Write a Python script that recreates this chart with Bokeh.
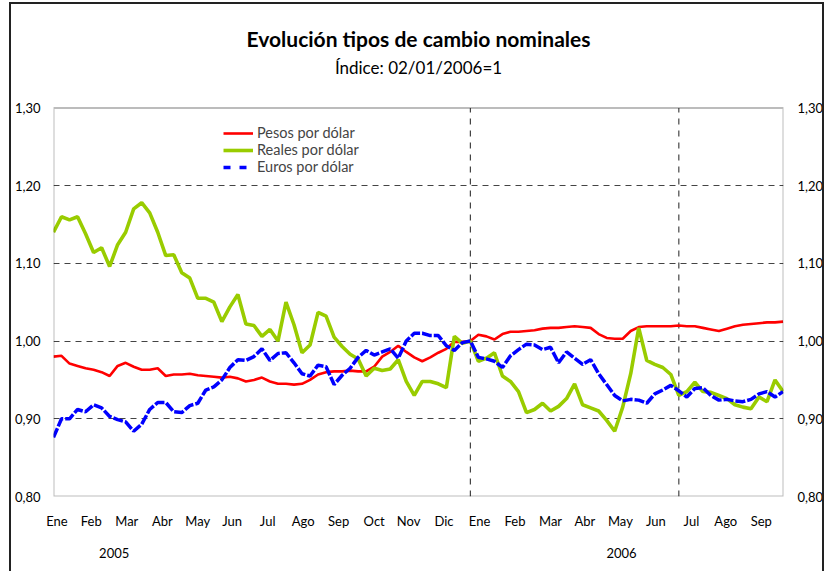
import pandas as pd
from bokeh.plotting import figure
from bokeh.models import (Range1d, FixedTicker, LinearAxis, Legend, LegendItem,
                          Label, BoxAnnotation, CustomJSTickFormatter)
from bokeh.embed import file_html
from bokeh.resources import INLINE

# ---- data (weekly readings, index 02/01/2006 = 1) ----
fechas = pd.date_range("2005-01-03", periods=92, freq="7D")

pesos = [0.980, 0.981, 0.971, 0.968, 0.965, 0.963, 0.960, 0.955, 0.968, 0.972,
         0.967, 0.963, 0.963, 0.965, 0.955, 0.957, 0.957, 0.958, 0.956, 0.955,
         0.954, 0.953, 0.954, 0.952, 0.948, 0.950, 0.953, 0.948, 0.945, 0.945,
         0.944, 0.945, 0.950, 0.957, 0.960, 0.961, 0.961, 0.962, 0.961, 0.961,
         0.967, 0.980, 0.986, 0.994, 0.986, 0.979, 0.974, 0.979, 0.985, 0.990,
         0.999, 0.999, 1.000, 1.008, 1.006, 1.002, 1.009, 1.012, 1.012, 1.013,
         1.014, 1.016, 1.017, 1.017, 1.018, 1.019, 1.018, 1.017, 1.009, 1.004,
         1.003, 1.003, 1.013, 1.018, 1.019, 1.019, 1.019, 1.019, 1.020, 1.019,
         1.019, 1.017, 1.015, 1.013, 1.016, 1.019, 1.021, 1.022, 1.023, 1.024,
         1.024, 1.025]

reales = [1.140, 1.160, 1.156, 1.160, 1.138, 1.114, 1.120, 1.096, 1.124, 1.140,
          1.170, 1.178, 1.165, 1.140, 1.110, 1.111, 1.088, 1.081, 1.055, 1.055,
          1.050, 1.025, 1.044, 1.060, 1.022, 1.020, 1.006, 1.015, 1.000, 1.050,
          1.021, 0.985, 0.995, 1.037, 1.032, 1.005, 0.993, 0.983, 0.977, 0.955,
          0.965, 0.962, 0.964, 0.976, 0.948, 0.930, 0.948, 0.948, 0.945, 0.940,
          1.006, 0.997, 1.000, 0.974, 0.978, 0.985, 0.955, 0.948, 0.935, 0.908,
          0.912, 0.920, 0.910, 0.916, 0.926, 0.945, 0.918, 0.914, 0.910, 0.898,
          0.884, 0.915, 0.958, 1.017, 0.975, 0.970, 0.966, 0.957, 0.930, 0.935,
          0.947, 0.935, 0.934, 0.930, 0.926, 0.918, 0.915, 0.913, 0.928, 0.922,
          0.950, 0.935]

euros = [0.876, 0.900, 0.900, 0.912, 0.909, 0.918, 0.914, 0.903, 0.899, 0.896,
         0.884, 0.893, 0.912, 0.921, 0.921, 0.909, 0.908, 0.917, 0.920, 0.937,
         0.941, 0.950, 0.966, 0.976, 0.975, 0.980, 0.990, 0.975, 0.984, 0.985,
         0.972, 0.958, 0.955, 0.969, 0.967, 0.944, 0.956, 0.965, 0.979, 0.988,
         0.982, 0.986, 0.990, 0.978, 1.000, 1.010, 1.010, 1.007, 1.007, 0.994,
         0.988, 0.998, 1.000, 0.979, 0.977, 0.974, 0.966, 0.981, 0.989, 0.996,
         0.995, 0.989, 0.992, 0.972, 0.986, 0.978, 0.970, 0.976, 0.958, 0.944,
         0.930, 0.923, 0.925, 0.924, 0.920, 0.932, 0.937, 0.943, 0.936, 0.928,
         0.939, 0.940, 0.930, 0.924, 0.925, 0.923, 0.922, 0.925, 0.932, 0.935,
         0.928, 0.935]

meses = ["Ene", "Feb", "Mar", "Abr", "May", "Jun", "Jul", "Ago", "Sep", "Oct", "Nov", "Dic",
         "Ene", "Feb", "Mar", "Abr", "May", "Jun", "Jul", "Ago", "Sep"]
anios = ["2005", "2006"]
y_ticks = [0.80, 0.90, 1.00, 1.10, 1.20, 1.30]
fechas_marcadas = ["2006-01-02", "2006-07-03"]

titulo = "Evolución tipos de cambio nominales"
subtitulo = "Índice: 02/01/2006=1"
nombres = ["Pesos por dólar", "Reales por dólar", "Euros por dólar"]
colores = ["#FF0000", "#99CC00", "#0000FF"]

FONT = "Lato"

dias = (fechas - fechas[0]).days.to_numpy()
x_end = 637.4
y_min, y_max = y_ticks[0], y_ticks[-1]
# the frame extends above the chart box to hold the two title lines
px_per_unit = 387 / (y_max - y_min)
y_top = y_max + 99 / px_per_unit

p = figure(width=811, height=567, output_backend="svg", toolbar_location=None,
           title=None, x_range=Range1d(0, x_end), y_range=Range1d(y_min, y_top),
           min_border_left=41, min_border_right=38, min_border_top=4, min_border_bottom=77)
p.background_fill_color = "white"
p.border_fill_color = "white"
p.outline_line_color = None
p.styles = {"margin-left": "9px", "margin-top": "2px", "box-sizing": "content-box",
            "border-top": "2px solid #222", "border-left": "2px solid #222",
            "border-right": "2px solid #222"}

# chart box
p.add_layout(BoxAnnotation(left=0, right=x_end, bottom=y_min, top=y_max,
                           fill_alpha=0, line_color="#222222", line_width=2))

# titles
p.add_layout(Label(x=x_end / 2, y=y_max, y_offset=69, text=titulo,
                   text_align="center", text_baseline="middle",
                   text_font=FONT, text_font_size="21px", text_font_style="bold",
                   text_color="black"))
p.add_layout(Label(x=x_end / 2, y=y_max, y_offset=40, text=subtitulo,
                   text_align="center", text_baseline="middle",
                   text_font=FONT, text_font_size="17px", text_color="black"))

# grid
p.xgrid.visible = False
p.ygrid.ticker = FixedTicker(ticks=y_ticks[1:-1])
p.ygrid.grid_line_color = "#444444"
p.ygrid.grid_line_dash = "6 5"
p.ygrid.grid_line_width = 1

marcas = [(pd.Timestamp(f) - fechas[0]).days for f in fechas_marcadas]
p.segment(x0=marcas, y0=[y_min] * len(marcas), x1=marcas, y1=[y_max] * len(marcas),
          line_color="#444444", line_dash="6 6", line_width=1.2)

# series
r_p = p.line(dias, pesos, line_color=colores[0], line_width=2.6)
r_r = p.line(dias, reales, line_color=colores[1], line_width=3.6)
r_e = p.line(dias, euros, line_color=colores[2], line_width=3.5, line_dash="10 2")
# legend proxy for the dashed series (kept outside the visible y range)
r_e_leg = p.line([0, 1], [0.0, 0.0], line_color=colores[2], line_width=3.5, line_dash="7 9")

legend = Legend(items=[LegendItem(label=nombres[0], renderers=[r_p]),
                       LegendItem(label=nombres[1], renderers=[r_r]),
                       LegendItem(label=nombres[2], renderers=[r_e_leg])],
                location=(170, 321), padding=0, margin=0, spacing=0,
                glyph_width=30, glyph_height=12, label_height=12, label_standoff=4,
                label_text_font=FONT, label_text_font_size="14.5px",
                label_text_line_height=0.85,
                background_fill_alpha=0, border_line_alpha=0)
p.add_layout(legend)

# y axes
fmt = CustomJSTickFormatter(code="return tick.toFixed(2).replace('.', ',');")
yl = p.yaxis[0]
yr = LinearAxis()
p.add_layout(yr, "right")
for ax, so in ((yl, 13), (yr, 14)):
    ax.ticker = FixedTicker(ticks=y_ticks)
    ax.formatter = fmt
    ax.major_label_standoff = so
    ax.major_tick_out = 0
    ax.major_tick_in = 0
    ax.minor_tick_out = 0
    ax.minor_tick_in = 0
    ax.axis_line_color = None
    ax.major_label_text_font = FONT
    ax.major_label_text_font_size = "13px"
    ax.major_label_text_color = "black"

# x axes: months and years
pos_meses = [round(2.6 + 30.78 * i) for i in range(len(meses))]
pos_anios = [53, 496]
xm = p.xaxis[0]
xm.ticker = FixedTicker(ticks=pos_meses)
xm.major_label_overrides = {pos: m for pos, m in zip(pos_meses, meses)}
xa = LinearAxis(ticker=FixedTicker(ticks=pos_anios),
                major_label_overrides={pos: a for pos, a in zip(pos_anios, anios)})
p.add_layout(xa, "below")
for ax, so in ((xm, 16), (xa, 16)):
    ax.major_label_standoff = so
    ax.major_tick_out = 0
    ax.major_tick_in = 0
    ax.minor_tick_out = 0
    ax.minor_tick_in = 0
    ax.axis_line_color = None
    ax.major_label_text_font = FONT
    ax.major_label_text_font_size = "13px"
    ax.major_label_text_color = "black"

open("out.html", "w").write(file_html(p, INLINE))
